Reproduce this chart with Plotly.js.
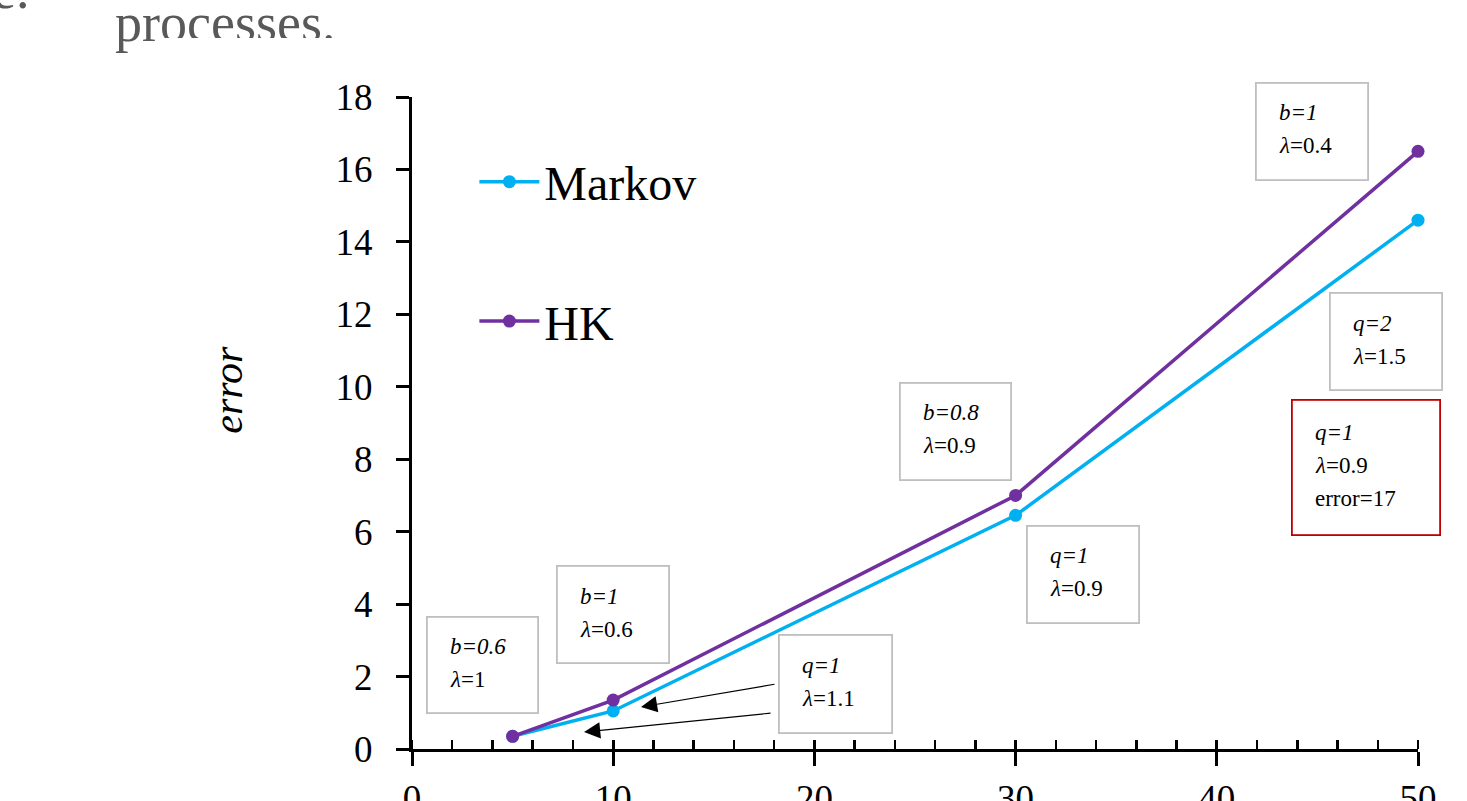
<!DOCTYPE html>
<html><head><meta charset="utf-8">
<script src="https://cdn.plot.ly/plotly-3.0.1.min.js"></script>
<style>
html,body{margin:0;padding:0;background:#fff;}
#wrap{position:relative;width:1467px;height:801px;overflow:hidden;background:#fff;}
#plot{position:absolute;left:0;top:0;width:1467px;height:850px;}
.pt{position:absolute;font-family:'Liberation Serif',serif;font-size:54px;line-height:54px;color:#595959;white-space:nowrap;z-index:2;}
#cover{position:absolute;left:158px;top:38px;width:260px;height:24px;background:#fff;z-index:3;}
</style>
</head><body>
<div id="wrap">
  <div id="plot"></div>
  <div class="pt" style="left:-8px;top:-37px;">e.</div>
  <div class="pt" style="left:115px;top:-4px;">processes.</div>
  <div id="cover"></div>
</div>
<script>
// ---- data ----
const xValues = [5, 10, 30, 50];
const markovError = [0.35, 1.05, 6.45, 14.6];
const hkError = [0.35, 1.35, 7.0, 16.5];
const seriesNames = ['Markov', 'HK'];
const xTickVals = [0, 10, 20, 30, 40, 50];
const yTickVals = [0, 2, 4, 6, 8, 10, 12, 14, 16, 18];

const markovColor = '#00B0F0';
const hkColor = '#7030A0';
const serif = 'Liberation Serif, Times New Roman, serif';

const traces = [
  {x: xValues, y: markovError, name: seriesNames[0], mode: 'lines+markers', legendgroup: 'a',
   line: {color: markovColor, width: 3.5}, marker: {color: markovColor, size: 13},
   cliponaxis: false, xaxis: 'x', yaxis: 'y'},
  {x: xValues, y: hkError, name: seriesNames[1], mode: 'lines+markers', legendgroup: 'b',
   line: {color: hkColor, width: 3.5}, marker: {color: hkColor, size: 13},
   cliponaxis: false, xaxis: 'x2', yaxis: 'y'}
];

// annotation boxes: center in data coords, size in px
const boxes = [
  {cx: 3.5,  cy: 2.32, w: 109, h: 94,  col: '#BFBFBF', lines: ['<i>b=0.6</i>', '<i>λ</i>=1']},
  {cx: 9.99, cy: 3.71, w: 110, h: 95,  col: '#BFBFBF', lines: ['<i>b=1</i>', '<i>λ</i>=0.6']},
  {cx: 21.05,cy: 1.79, w: 111, h: 96,  col: '#BFBFBF', lines: ['<i>q=1</i>', '<i>λ</i>=1.1']},
  {cx: 27.01,cy: 8.77, w: 109, h: 95,  col: '#BFBFBF', lines: ['<i>b=0.8</i>', '<i>λ</i>=0.9']},
  {cx: 33.35,cy: 4.82, w: 110, h: 95,  col: '#BFBFBF', lines: ['<i>q=1</i>', '<i>λ</i>=0.9']},
  {cx: 44.73,cy: 17.05,w: 110, h: 95,  col: '#BFBFBF', lines: ['<i>b=1</i>', '<i>λ</i>=0.4']},
  {cx: 48.41,cy: 11.25,w: 110, h: 95,  col: '#BFBFBF', lines: ['<i>q=2</i>', '<i>λ</i>=1.5']},
  {cx: 47.42,cy: 7.77, w: 146, h: 133, col: '#C00000', lines: ['<i>q=1</i>', '<i>λ</i>=0.9', 'error=17']}
];

const annotations = [];
boxes.forEach(b => {
  annotations.push({x: b.cx, y: b.cy, xref: 'x', yref: 'y', text: ' ', showarrow: false,
    width: b.w, height: b.h, borderpad: 0, bordercolor: b.col, borderwidth: 1.8,
    xanchor: 'center', yanchor: 'middle', font: {size: 10}});
  const n = b.lines.length;
  b.lines.forEach((t, i) => {
    annotations.push({x: b.cx, y: b.cy, xref: 'x', yref: 'y', text: t, showarrow: false,
      xanchor: 'left', yanchor: 'middle', xshift: -b.w / 2 + 20, yshift: ((n - 1) / 2 - i) * 33 + 2,
      font: {family: serif, size: 23, color: '#000'}});
  });
});
// arrows from the q=1, λ=1.1 box
annotations.push({x: 11.38, y: 1.16, xref: 'x', yref: 'y', ax: 135, ay: -23, text: '', showarrow: true,
  arrowhead: 2, arrowsize: 2.7, arrowwidth: 1.2, arrowcolor: '#000', standoff: 0});
annotations.push({x: 8.55, y: 0.47, xref: 'x', yref: 'y', ax: 188, ay: -19, text: '', showarrow: true,
  arrowhead: 2, arrowsize: 2.7, arrowwidth: 1.2, arrowcolor: '#000', standoff: 0});
// y axis title
annotations.push({x: -0.183, y: 0.551, xref: 'paper', yref: 'paper', text: '<i>error</i>', showarrow: false,
  textangle: -90, xanchor: 'center', yanchor: 'middle', font: {family: serif, size: 42, color: '#000'}});

const layout = {
  width: 1467, height: 850,
  margin: {l: 412, r: 49, t: 97, b: 101},
  paper_bgcolor: '#fff', plot_bgcolor: 'rgba(0,0,0,0)',
  font: {family: serif, color: '#000'},
  showlegend: true,
  legend: {x: 0.062, y: 0.928, xanchor: 'left', yanchor: 'top', bgcolor: 'rgba(0,0,0,0)',
    font: {family: serif, size: 48, color: '#000'}, traceorder: 'grouped', tracegroupgap: 74,
    itemwidth: 60},
  xaxis: {range: [0, 50], tickmode: 'array', tickvals: xTickVals, ticks: 'outside', ticklen: 14,
    tickwidth: 3, tickcolor: '#000', showline: true, linewidth: 3, linecolor: '#000',
    showgrid: false, zeroline: false, fixedrange: true, tickfont: {family: serif, size: 37, color: '#000'},
    ticklabelstandoff: 1,
    minor: {tickmode: 'linear', tick0: 0, dtick: 2, ticks: 'inside', ticklen: 9, tickwidth: 2.5,
      tickcolor: '#000', showgrid: false}},
  xaxis2: {range: [0, 50], overlaying: 'x', anchor: 'y', tickmode: 'array', tickvals: xTickVals,
    ticks: 'inside', ticklen: 9, tickwidth: 3, tickcolor: '#000', showticklabels: false,
    showline: false, showgrid: false, zeroline: false, fixedrange: true, side: 'bottom'},
  yaxis: {range: [0, 18], tickmode: 'array', tickvals: yTickVals, ticks: 'outside', ticklen: 13,
    tickwidth: 3, tickcolor: '#000', showline: true, linewidth: 3, linecolor: '#000',
    showgrid: false, zeroline: false, fixedrange: true, tickfont: {family: serif, size: 37, color: '#000'},
    ticklabelstandoff: 16},
  annotations: annotations
};

Plotly.newPlot('plot', traces, layout, {staticPlot: true, displayModeBar: false});
</script>
</body></html>
